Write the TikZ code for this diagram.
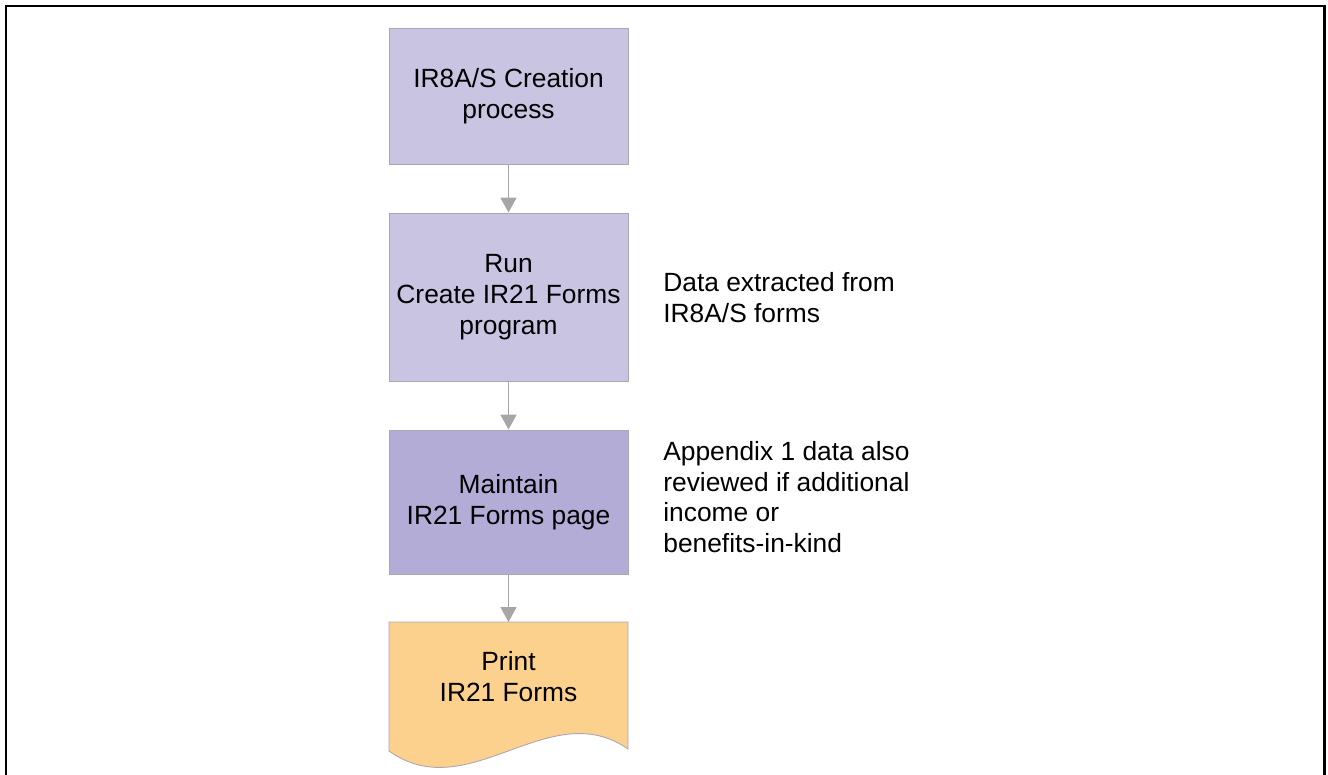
\documentclass[tikz,border=0pt]{standalone}
\usepackage{fontspec}
\setmainfont{Liberation Sans}
\usetikzlibrary{arrows.meta}

\definecolor{stepfill}{HTML}{C8C4E2}
\definecolor{pagefill}{HTML}{B2ACD6}
\definecolor{printfill}{HTML}{FCD18E}
\definecolor{edgegray}{HTML}{A9A7B4}
\definecolor{arrowgray}{HTML}{A6A6A8}

\begin{document}
\begin{tikzpicture}[
  x=0.02cm,y=-0.02cm,
  font=\fontsize{15pt}{17.5pt}\selectfont,
  stepbox/.style={draw=edgegray,line width=0.5pt,fill=stepfill,
                  minimum width=4.78cm,align=center,inner sep=0pt},
  pagebox/.style={stepbox,fill=pagefill},
  note/.style={anchor=west,align=left,inner sep=0pt},
  flow/.style={-{Triangle[width=0.32cm,length=0.30cm]},line width=0.9pt,draw=arrowgray}
]
  \useasboundingbox (0,0) rectangle (1328,774);
  \draw[line width=1.7pt] (6,780)--(6,6)--(1324,6)--(1324,780);

  \node[stepbox,minimum height=2.72cm] (create) at (508.5,96)
    {IR8A/S Creation\\process};
  \node[stepbox,minimum height=3.36cm] (run) at (508.5,297)
    {Run\\Create IR21 Forms\\program};
  \node[pagebox,minimum height=2.88cm] (maint) at (508.5,502)
    {Maintain\\IR21 Forms page};

  % printed document with wavy lower edge
  \filldraw[fill=printfill,draw=edgegray,line width=0.5pt]
    (389,622)--(628,622)--(628,749)
    .. controls (549,694) and (469,808) .. (389,751)--cycle;
  \node[align=center,inner sep=0pt,minimum width=4.78cm,minimum height=2.16cm,
        anchor=north] (print) at (508.5,622) {Print\\IR21 Forms};

  \draw[flow] (create)--(run);
  \draw[flow] (run)--(maint);
  \draw[flow] (maint)--(print.north);

  \node[note] (extract) at (663,297.5)
    {Data extracted from\\IR8A/S forms};
  \node[note] (review) at (663,497)
    {Appendix 1 data also\\reviewed if additional\\income or\\benefits-in-kind};
\end{tikzpicture}
\end{document}
